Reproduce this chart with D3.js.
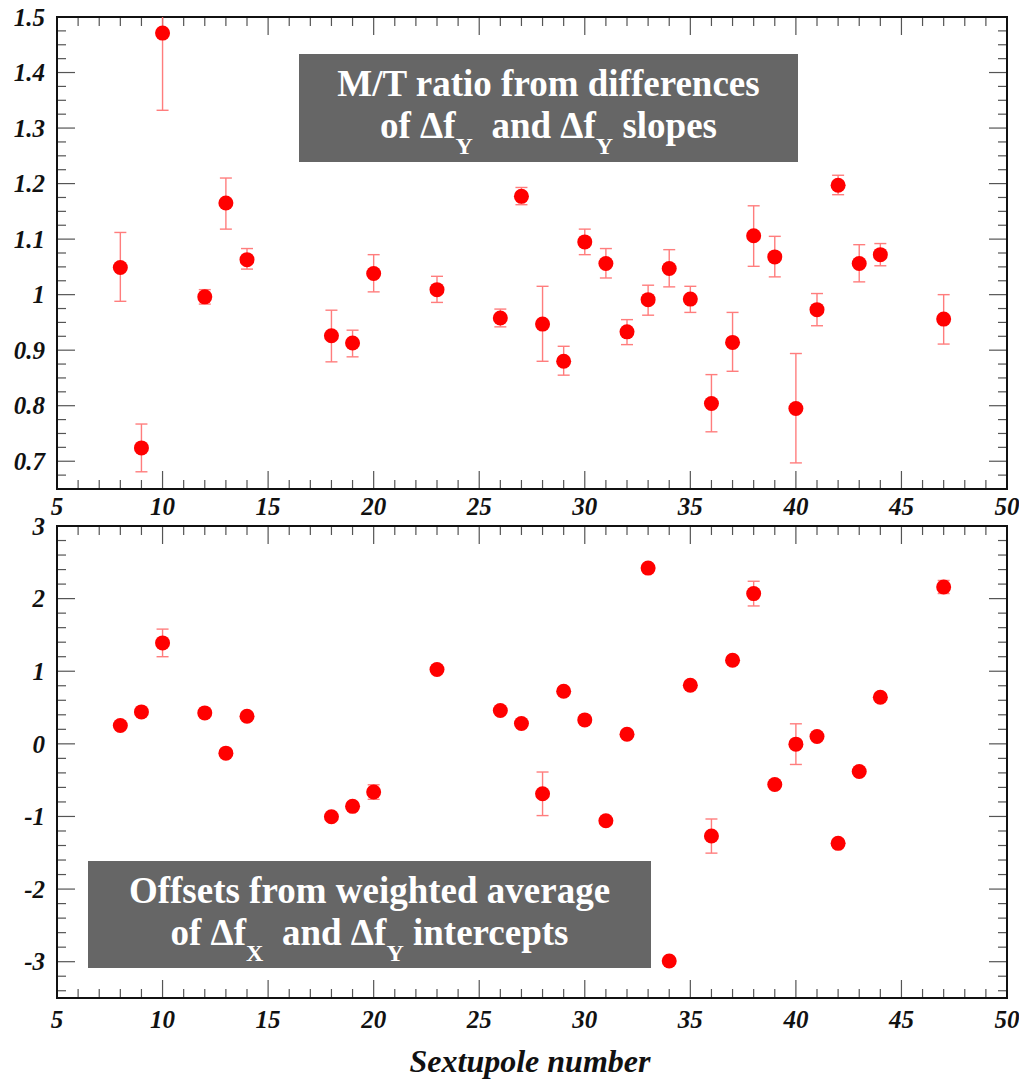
<!DOCTYPE html>
<html><head><meta charset="utf-8">
<script src="https://cdn.jsdelivr.net/npm/d3@7"></script>
<style>
html,body{margin:0;padding:0;background:#fff;}
svg{display:block;}
.tick-label{font-family:"Liberation Serif","DejaVu Serif",serif;font-weight:bold;font-style:italic;font-size:25px;fill:#111;}
.box-text{font-family:"Liberation Serif","DejaVu Serif",serif;font-weight:bold;font-size:37px;fill:#fff;}
</style>
</head><body>
<svg id="chart" width="1019" height="1081"></svg>
<script>
// ---- data ----
const sextupoles = [8,9,10,12,13,14,18,19,20,23,26,27,28,29,30,31,32,33,34,35,36,37,38,39,40,41,42,43,44,47];
const ratio     = [1.049,0.724,1.471,0.996,1.165,1.063,0.926,0.913,1.038,1.009,0.958,1.177,0.947,0.880,1.095,1.056,0.933,0.991,1.047,0.992,0.804,0.914,1.106,1.068,0.795,0.973,1.197,1.056,1.072,0.956];
const ratioLow  = [0.988,0.681,1.332,0.983,1.118,1.046,0.879,0.888,1.005,0.986,0.942,1.162,0.880,0.855,1.072,1.030,0.910,0.963,1.014,0.968,0.753,0.862,1.051,1.032,0.697,0.944,1.180,1.023,1.052,0.911];
const ratioHigh = [1.112,0.767,1.610,1.009,1.210,1.083,0.972,0.936,1.072,1.033,0.974,1.193,1.015,0.907,1.118,1.083,0.955,1.017,1.081,1.015,0.856,0.968,1.160,1.105,0.894,1.002,1.215,1.090,1.092,1.000];
const offsets   = [0.253,0.44,1.39,0.426,-0.128,0.381,-1.004,-0.861,-0.664,1.023,0.459,0.28,-0.688,0.725,0.33,-1.059,0.133,2.42,-2.99,0.807,-1.27,1.151,2.069,-0.559,-0.004,0.101,-1.37,-0.38,0.642,2.16];
const offsetErr = [0.03,0.03,0.19,0.03,0.03,0.03,0.03,0.03,0.10,0.03,0.03,0.03,0.30,0.03,0.03,0.03,0.03,0.03,0.03,0.03,0.235,0.03,0.17,0.03,0.28,0.03,0.03,0.03,0.03,0.09];
const xTicks = [5,10,15,20,25,30,35,40,45,50];
const topYTicks = [0.7,0.8,0.9,1,1.1,1.2,1.3,1.4,1.5];
const botYTicks = [-3,-2,-1,0,1,2,3];
const xLabel = "Sextupole number";

const svg = d3.select("#chart");
const L = 57, R = 1007;
const x = d3.scaleLinear().domain([5,50]).range([L,R]);

function panel(id, top, bottom, ydomain, yMajor, yMinorStep, xs, ys, lo, hi, xLabOffset) {
  const y = d3.scaleLinear().domain(ydomain).range([bottom, top]);
  const g = svg.append("g").attr("id", id);
  const clipId = id + "-clip";
  g.append("clipPath").attr("id", clipId).append("rect")
    .attr("x", L).attr("y", top).attr("width", R-L).attr("height", bottom-top);

  const xMinor = d3.range(5, 50.001, 1);
  const yMinor = d3.range(Math.ceil(ydomain[0]/yMinorStep - 1e-9)*yMinorStep, ydomain[1]+1e-9, yMinorStep);
  const isMajorX = v => Math.abs(v/5 - Math.round(v/5)) < 1e-6;
  const isMajorY = v => yMajor.some(t => Math.abs(t - v) < 1e-6);
  const tg = g.append("g").attr("stroke", "#555").attr("stroke-width", 1.2);
  xMinor.forEach(v => {
    const len = isMajorX(v) ? 18 : 9;
    tg.append("line").attr("x1", x(v)).attr("x2", x(v)).attr("y1", bottom).attr("y2", bottom - len);
    tg.append("line").attr("x1", x(v)).attr("x2", x(v)).attr("y1", top).attr("y2", top + len);
  });
  yMinor.forEach(v => {
    const len = isMajorY(v) ? 18 : 9;
    tg.append("line").attr("x1", L).attr("x2", L + len).attr("y1", y(v)).attr("y2", y(v));
    tg.append("line").attr("x1", R).attr("x2", R - len).attr("y1", y(v)).attr("y2", y(v));
  });

  g.append("rect").attr("x", L).attr("y", top).attr("width", R-L).attr("height", bottom-top)
    .attr("fill", "none").attr("stroke", "#111").attr("stroke-width", 2);

  g.selectAll("text.ylab").data(yMajor).join("text").attr("class", "tick-label ylab")
    .attr("x", L - 12).attr("y", d => y(d)).attr("dy", "0.35em").attr("text-anchor", "end")
    .text(d => String(d));
  g.selectAll("text.xlab").data(xTicks).join("text").attr("class", "tick-label xlab")
    .attr("x", d => x(d)).attr("y", bottom + xLabOffset).attr("text-anchor", "middle")
    .text(d => d);

  const eb = g.append("g").attr("clip-path", `url(#${clipId})`).attr("stroke", "#ff7070").attr("stroke-width", 1.4).attr("opacity", 0.9);
  xs.forEach((xv, i) => {
    if (Math.abs(y(lo[i]) - y(hi[i])) < 1) return;
    eb.append("line").attr("x1", x(xv)).attr("x2", x(xv)).attr("y1", y(lo[i])).attr("y2", y(hi[i]));
    eb.append("line").attr("x1", x(xv)-6).attr("x2", x(xv)+6).attr("y1", y(lo[i])).attr("y2", y(lo[i]));
    eb.append("line").attr("x1", x(xv)-6).attr("x2", x(xv)+6).attr("y1", y(hi[i])).attr("y2", y(hi[i]));
  });
  g.append("g").selectAll("circle").data(xs).join("circle")
    .attr("cx", d => x(d)).attr("cy", (d,i) => y(ys[i])).attr("r", 7.5).attr("fill", "#ff0000");
  return y;
}

panel("top", 17, 489, [0.65, 1.5], topYTicks, 0.025, sextupoles, ratio, ratioLow, ratioHigh, 26);
panel("bottom", 526, 998, [-3.5, 3], botYTicks, 0.2, sextupoles, offsets,
  offsets.map((v,i) => v - offsetErr[i]), offsets.map((v,i) => v + offsetErr[i]), 30);

svg.append("text").attr("x", 530).attr("y", 1072).attr("text-anchor", "middle")
  .attr("font-family", "Liberation Serif, DejaVu Serif, serif").attr("font-weight", "bold")
  .attr("font-style", "italic").attr("font-size", 32).attr("fill", "#111").text(xLabel);

function box(bx, by, bw, bh, line1, parts) {
  svg.append("rect").attr("x", bx).attr("y", by).attr("width", bw).attr("height", bh).attr("fill", "#666666");
  const cx = bx + bw/2;
  svg.append("text").attr("class", "box-text").attr("x", cx).attr("y", by + 42)
    .attr("text-anchor", "middle").text(line1);
  const t = svg.append("text").attr("class", "box-text").attr("x", cx).attr("y", by + 84).attr("text-anchor", "middle");
  parts.forEach(p => {
    const s = t.append("tspan").text(p.t);
    if (p.sub) s.attr("font-size", 24).attr("dy", 16);
    if (p.up) s.attr("dy", -16);
  });
}
box(299, 54, 499, 108, "M/T ratio from differences",
  [{t:"of Δf"},{t:"Y",sub:true},{t:"\u00a0 and Δf",up:true},{t:"Y",sub:true},{t:" slopes",up:true}]);
box(88, 861, 563, 107, "Offsets from weighted average",
  [{t:"of Δf"},{t:"X",sub:true},{t:"\u00a0 and Δf",up:true},{t:"Y",sub:true},{t:" intercepts",up:true}]);
</script>
</body></html>
